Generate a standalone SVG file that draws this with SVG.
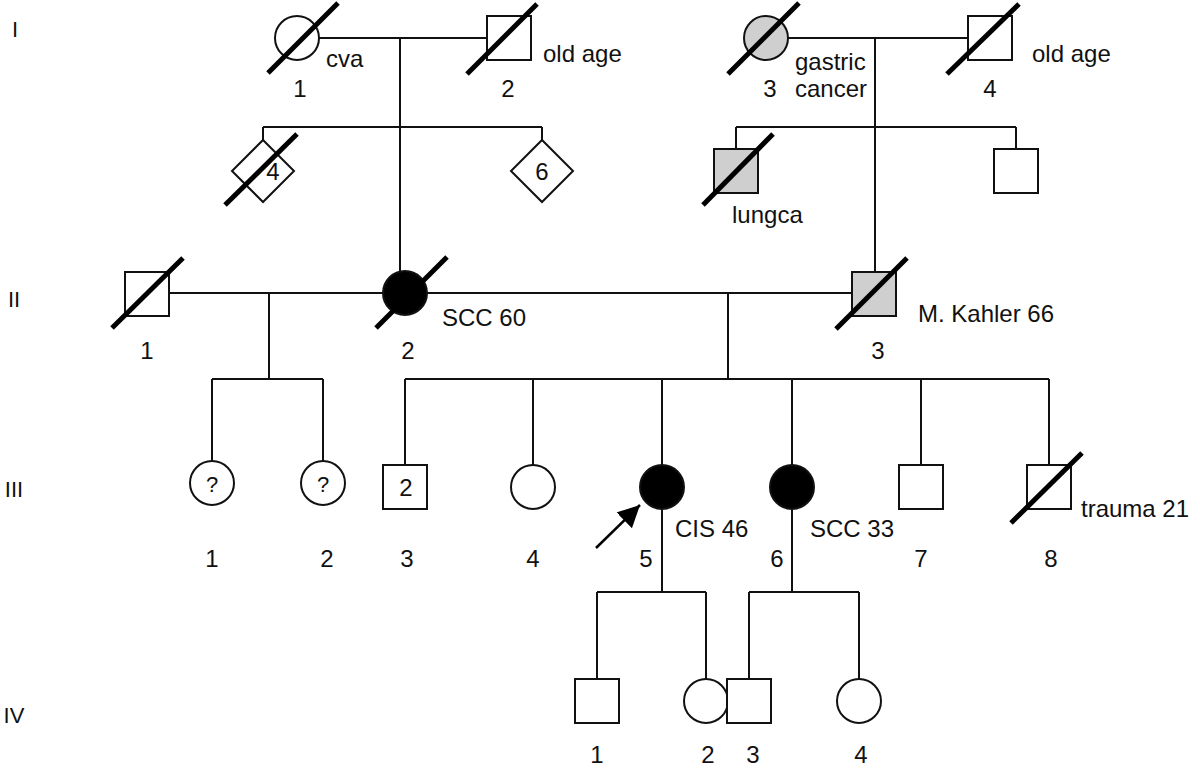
<svg xmlns="http://www.w3.org/2000/svg" width="1200" height="768" viewBox="0 0 1200 768">
<defs>
<style>
.ln{stroke:#111;stroke-width:2;fill:none}
.sym{stroke:#111;stroke-width:2;fill:#fff}
.aff{stroke:#111;stroke-width:2;fill:#000}
.par{stroke:#111;stroke-width:2;fill:#cfcfcf}
.dead{stroke:#000;stroke-width:5;stroke-linecap:butt}
text{font-family:"Liberation Sans",Arial,sans-serif;font-size:24px;fill:#111}
.num{text-anchor:middle}
.gen{text-anchor:middle;font-size:22px}
.q{text-anchor:middle;font-size:22px}
</style>
<marker id="arr" viewBox="0 0 22 22" refX="22" refY="11" markerWidth="22" markerHeight="22" orient="auto" markerUnits="userSpaceOnUse">
<path d="M0,0 L22,11 L0,22 z" fill="#000"/>
</marker>
</defs>
<rect width="1200" height="768" fill="#fff"/>

<g id="generations">
<text class="gen" x="15" y="37">I</text>
<text class="gen" x="14" y="307">II</text>
<text class="gen" x="14" y="497">III</text>
<text class="gen" x="14" y="723">IV</text>
</g>

<g id="connectors">
<line class="ln" x1="319" y1="38" x2="487" y2="38"/>
<line class="ln" x1="400" y1="38" x2="400" y2="271"/>
<line class="ln" x1="263" y1="127" x2="542" y2="127"/>
<line class="ln" x1="263" y1="127" x2="263" y2="140"/>
<line class="ln" x1="542" y1="127" x2="542" y2="140"/>
<line class="ln" x1="788" y1="38" x2="968" y2="38"/>
<line class="ln" x1="875" y1="38" x2="875" y2="272"/>
<line class="ln" x1="736" y1="127" x2="1016" y2="127"/>
<line class="ln" x1="736" y1="127" x2="736" y2="149"/>
<line class="ln" x1="1016" y1="127" x2="1016" y2="149"/>
<line class="ln" x1="169" y1="293" x2="383" y2="293"/>
<line class="ln" x1="427" y1="293" x2="852" y2="293"/>
<line class="ln" x1="269" y1="293" x2="269" y2="379"/>
<line class="ln" x1="212" y1="379" x2="323" y2="379"/>
<line class="ln" x1="212" y1="379" x2="212" y2="461"/>
<line class="ln" x1="323" y1="379" x2="323" y2="461"/>
<line class="ln" x1="728" y1="293" x2="728" y2="379"/>
<line class="ln" x1="405" y1="379" x2="1049" y2="379"/>
<line class="ln" x1="405" y1="379" x2="405" y2="465"/>
<line class="ln" x1="533" y1="379" x2="533" y2="465"/>
<line class="ln" x1="662" y1="379" x2="662" y2="465"/>
<line class="ln" x1="792" y1="379" x2="792" y2="465"/>
<line class="ln" x1="921" y1="379" x2="921" y2="465"/>
<line class="ln" x1="1049" y1="379" x2="1049" y2="465"/>
<line class="ln" x1="662" y1="509" x2="662" y2="592"/>
<line class="ln" x1="597" y1="592" x2="706" y2="592"/>
<line class="ln" x1="597" y1="592" x2="597" y2="679"/>
<line class="ln" x1="706" y1="592" x2="706" y2="679"/>
<line class="ln" x1="792" y1="509" x2="792" y2="592"/>
<line class="ln" x1="749" y1="592" x2="859" y2="592"/>
<line class="ln" x1="749" y1="592" x2="749" y2="679"/>
<line class="ln" x1="859" y1="592" x2="859" y2="679"/>
<line x1="596" y1="548" x2="640" y2="505" stroke="#000" stroke-width="2.5" marker-end="url(#arr)"/>
</g>

<g id="I-1"><circle class="sym" cx="297" cy="38" r="22"/><line class="dead" x1="268" y1="73" x2="338" y2="3"/><text class="num" x="300" y="97">1</text><text x="326" y="67">cva</text></g>
<g id="I-2"><rect class="sym" x="487" y="16" width="44" height="44"/><line class="dead" x1="467" y1="74" x2="537" y2="4"/><text class="num" x="508" y="97">2</text><text x="543" y="62">old age</text></g>
<g id="I-3"><circle class="par" cx="766" cy="38" r="22"/><line class="dead" x1="728" y1="74" x2="799" y2="3"/><text class="num" x="770" y="97">3</text><text x="795" y="70">gastric</text><text x="795" y="97">cancer</text></g>
<g id="I-4"><rect class="sym" x="968" y="16" width="44" height="44"/><line class="dead" x1="947" y1="74" x2="1019" y2="4"/><text class="num" x="990" y="97">4</text><text x="1032" y="62">old age</text></g>

<g id="I-sib-4"><path class="sym" d="M263,140 L294,171 L263,202 L232,171 Z"/><text class="num" x="273" y="180">4</text><line class="dead" x1="225" y1="205" x2="297" y2="134"/></g>
<g id="I-sib-6"><path class="sym" d="M542,140 L573,171 L542,202 L511,171 Z"/><text class="num" x="542" y="180">6</text></g>
<g id="I-sib-lungca"><rect class="par" x="714" y="149" width="44" height="44"/><line class="dead" x1="703" y1="205" x2="773" y2="134"/><text x="732" y="223">lungca</text></g>
<g id="I-sib-male"><rect class="sym" x="994" y="149" width="44" height="44"/></g>

<g id="II-1"><rect class="sym" x="125" y="272" width="44" height="44"/><line class="dead" x1="112" y1="328" x2="183" y2="258"/><text class="num" x="147" y="359">1</text></g>
<g id="II-2"><circle class="aff" cx="405" cy="293" r="22"/><line class="dead" x1="376" y1="328" x2="447" y2="257"/><text class="num" x="408" y="359">2</text><text x="442" y="326">SCC 60</text></g>
<g id="II-3"><rect class="par" x="852" y="272" width="44" height="44"/><line class="dead" x1="836" y1="329" x2="907" y2="258"/><text class="num" x="878" y="359">3</text><text x="918" y="322">M. Kahler 66</text></g>

<g id="III-1"><circle class="sym" cx="212" cy="483" r="22"/><text class="q" x="212" y="492">?</text><text class="num" x="212" y="567">1</text></g>
<g id="III-2"><circle class="sym" cx="323" cy="483" r="22"/><text class="q" x="323" y="492">?</text><text class="num" x="327" y="567">2</text></g>
<g id="III-3"><rect class="sym" x="383" y="465" width="44" height="44"/><text class="num" x="406" y="496">2</text><text class="num" x="407" y="567">3</text></g>
<g id="III-4"><circle class="sym" cx="533" cy="487" r="22"/><text class="num" x="533" y="567">4</text></g>
<g id="III-5"><circle class="aff" cx="662" cy="487" r="22"/><text class="num" x="646" y="567">5</text><text x="675" y="537">CIS 46</text></g>
<g id="III-6"><circle class="aff" cx="792" cy="487" r="22"/><text class="num" x="777" y="567">6</text><text x="810" y="537">SCC 33</text></g>
<g id="III-7"><rect class="sym" x="899" y="465" width="44" height="44"/><text class="num" x="921" y="567">7</text></g>
<g id="III-8"><rect class="sym" x="1027" y="465" width="44" height="44"/><line class="dead" x1="1011" y1="523" x2="1082" y2="453"/><text class="num" x="1051" y="567">8</text><text x="1081" y="517">trauma 21</text></g>

<g id="IV-1"><rect class="sym" x="575" y="679" width="44" height="44"/><text class="num" x="597" y="763">1</text></g>
<g id="IV-2"><circle class="sym" cx="706" cy="701" r="22"/><text class="num" x="708" y="763">2</text></g>
<g id="IV-3"><rect class="sym" x="727" y="679" width="44" height="44"/><text class="num" x="753" y="763">3</text></g>
<g id="IV-4"><circle class="sym" cx="859" cy="701" r="22"/><text class="num" x="861" y="763">4</text></g>
</svg>
